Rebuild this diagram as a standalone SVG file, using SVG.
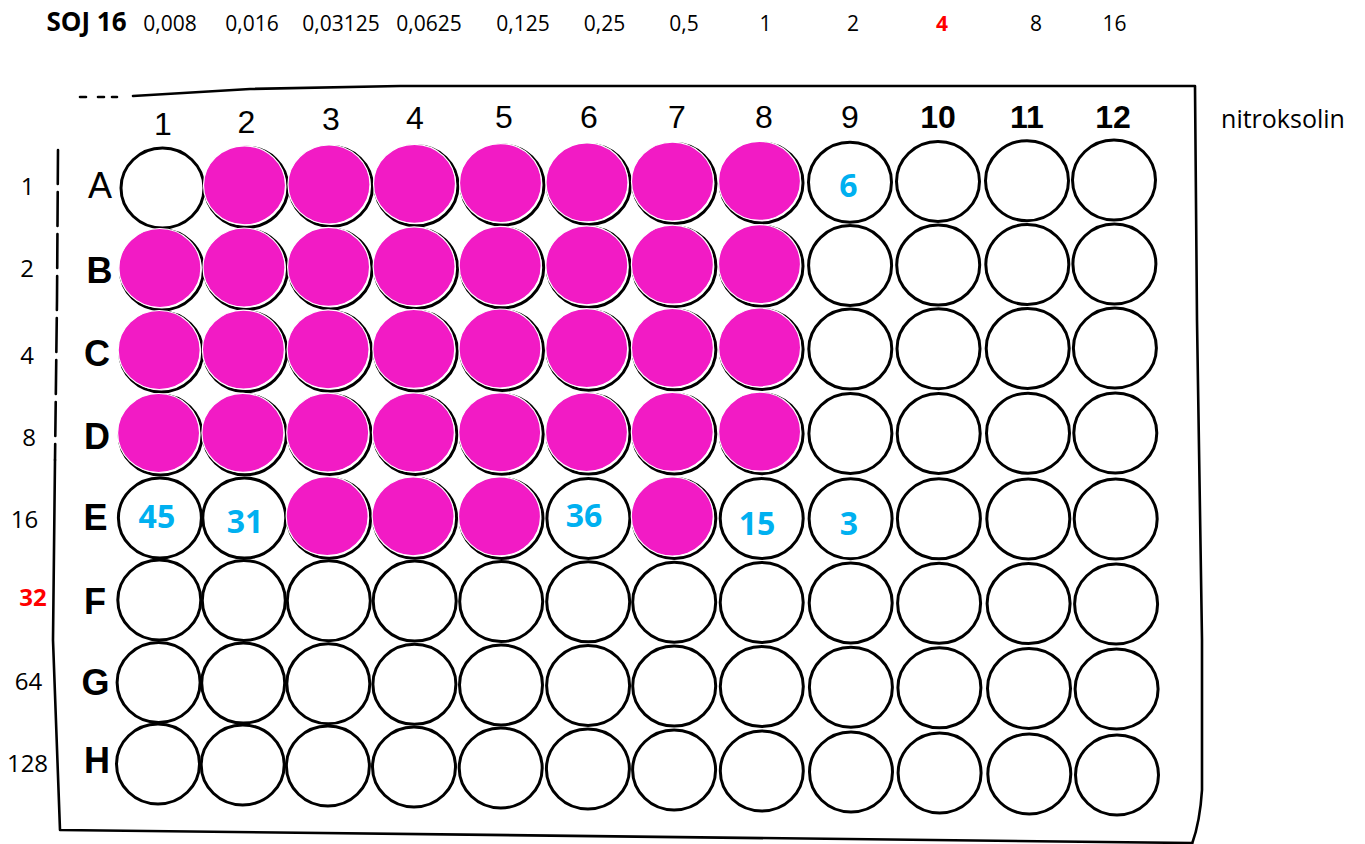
<svg xmlns="http://www.w3.org/2000/svg" xmlns:xlink="http://www.w3.org/1999/xlink" width="1365" height="844" viewBox="0 0 1365 844">
<style>
.ring{fill:#fff;stroke:#000;stroke-width:3}
.dot{fill:#F21BC5;stroke:#fff;stroke-width:1.2}
.cal{font-family:"Open Sans","Noto Sans",sans-serif;fill:#000;text-anchor:middle}
.top{font-size:21px}
.row{font-size:24px}
.red{fill:#FF0000;font-weight:bold}
.blue{font-family:"Open Sans","Noto Sans",sans-serif;font-size:32px;font-weight:bold;fill:#00B0F0;text-anchor:middle}
.hdr{font-family:"Liberation Sans",Arial,sans-serif;font-size:32px;fill:#000;text-anchor:middle}
.let{font-family:"Liberation Sans",Arial,sans-serif;font-size:36px;font-weight:bold;fill:#000;text-anchor:middle}
.border{fill:none;stroke:#000;stroke-width:2.6;stroke-linecap:round;stroke-linejoin:round}
</style>
<defs>
<ellipse id="ring" rx="41.5" ry="40"/>
<ellipse id="dot" cx="-2" cy="-2" rx="41" ry="39.5"/>
</defs>
<rect width="1365" height="844" fill="#fff"/>

<g id="plate-border">
<path class="border" d="M80,97 L86,97 M98,97 L104,97 M112,97 L117,97" stroke-width="2"/>
<path class="border" d="M133,96 L250,89 L400,86 L1195,86 L1197,320 L1202,640 L1202,790 Q1200,822 1192,844"/>
<path class="border" d="M58,150 L57,300 L55,460" stroke-dasharray="34 8"/>
<path class="border" d="M55,460 L53,640 L60,830 L1192,843"/>
</g>

<g id="concentration-labels" class="cal top">
<text x="86.5" y="31" font-size="26" font-weight="bold">SOJ 16</text>
<text x="170" y="31">0,008</text>
<text x="252" y="31">0,016</text>
<text x="341" y="31">0,03125</text>
<text x="429" y="31">0,0625</text>
<text x="523" y="31">0,125</text>
<text x="604.5" y="31">0,25</text>
<text x="684" y="31">0,5</text>
<text x="765.5" y="31">1</text>
<text x="853" y="31">2</text>
<text x="942" y="31" class="red">4</text>
<text x="1036" y="31">8</text>
<text x="1114.5" y="31">16</text>
</g>

<g id="nitroksolin-label">
<text class="cal" x="1283" y="128" font-size="25">nitroksolin</text>
</g>

<g id="row-concentrations" class="cal row">
<text x="27.5" y="195">1</text>
<text x="27" y="277">2</text>
<text x="27" y="364">4</text>
<text x="29" y="446">8</text>
<text x="24.5" y="528">16</text>
<text x="33" y="606" class="red">32</text>
<text x="28.5" y="690">64</text>
<text x="27.5" y="772">128</text>
</g>

<g id="column-headers" class="hdr">
<text x="163" y="135">1</text>
<text x="246.5" y="133">2</text>
<text x="331" y="130">3</text>
<text x="415" y="129">4</text>
<text x="504" y="128">5</text>
<text x="589" y="128">6</text>
<text x="677" y="128">7</text>
<text x="764" y="128">8</text>
<text x="850" y="128">9</text>
<text x="938" y="128" font-weight="bold">10</text>
<text x="1027" y="128" font-weight="bold">11</text>
<text x="1113" y="128" font-weight="bold">12</text>
</g>

<g id="row-letters" class="let">
<text x="100" y="198" font-weight="normal">A</text>
<text x="99.5" y="283">B</text>
<text x="97" y="366">C</text>
<text x="97" y="449">D</text>
<text x="95.5" y="530">E</text>
<text x="95" y="614">F</text>
<text x="95.5" y="695">G</text>
<text x="97" y="773">H</text>
</g>

<g id="wells">
<g id="A1" transform="translate(162.5 188)"><use xlink:href="#ring" class="ring"/></g>
<g id="A2" transform="translate(246.5 187.3)"><use xlink:href="#ring" class="ring"/><use xlink:href="#dot" class="dot"/></g>
<g id="A3" transform="translate(331 186.5)"><use xlink:href="#ring" class="ring"/><use xlink:href="#dot" class="dot"/></g>
<g id="A4" transform="translate(416.5 185.8)"><use xlink:href="#ring" class="ring"/><use xlink:href="#dot" class="dot"/></g>
<g id="A5" transform="translate(502.5 185.1)"><use xlink:href="#ring" class="ring"/><use xlink:href="#dot" class="dot"/></g>
<g id="A6" transform="translate(589 184.4)"><use xlink:href="#ring" class="ring"/><use xlink:href="#dot" class="dot"/></g>
<g id="A7" transform="translate(674.5 183.6)"><use xlink:href="#ring" class="ring"/><use xlink:href="#dot" class="dot"/></g>
<g id="A8" transform="translate(761.5 182.9)"><use xlink:href="#ring" class="ring"/><use xlink:href="#dot" class="dot"/></g>
<g id="A9" transform="translate(850 182.2)"><use xlink:href="#ring" class="ring"/><text class="blue" x="-1.5" y="15">6</text></g>
<g id="A10" transform="translate(938 181.5)"><use xlink:href="#ring" class="ring"/></g>
<g id="A11" transform="translate(1027 180.7)"><use xlink:href="#ring" class="ring"/></g>
<g id="A12" transform="translate(1114 180)"><use xlink:href="#ring" class="ring"/></g>

<g id="B1" transform="translate(161.9 270)"><use xlink:href="#ring" class="ring"/><use xlink:href="#dot" class="dot"/></g>
<g id="B2" transform="translate(246 269.5)"><use xlink:href="#ring" class="ring"/><use xlink:href="#dot" class="dot"/></g>
<g id="B3" transform="translate(330.6 268.9)"><use xlink:href="#ring" class="ring"/><use xlink:href="#dot" class="dot"/></g>
<g id="B4" transform="translate(416.1 268.4)"><use xlink:href="#ring" class="ring"/><use xlink:href="#dot" class="dot"/></g>
<g id="B5" transform="translate(502.2 267.8)"><use xlink:href="#ring" class="ring"/><use xlink:href="#dot" class="dot"/></g>
<g id="B6" transform="translate(588.8 267.3)"><use xlink:href="#ring" class="ring"/><use xlink:href="#dot" class="dot"/></g>
<g id="B7" transform="translate(674.4 266.7)"><use xlink:href="#ring" class="ring"/><use xlink:href="#dot" class="dot"/></g>
<g id="B8" transform="translate(761.5 266.2)"><use xlink:href="#ring" class="ring"/><use xlink:href="#dot" class="dot"/></g>
<g id="B9" transform="translate(850.1 265.6)"><use xlink:href="#ring" class="ring"/></g>
<g id="B10" transform="translate(938.2 265.1)"><use xlink:href="#ring" class="ring"/></g>
<g id="B11" transform="translate(1027.3 264.5)"><use xlink:href="#ring" class="ring"/></g>
<g id="B12" transform="translate(1114.4 264)"><use xlink:href="#ring" class="ring"/></g>

<g id="C1" transform="translate(161.2 352)"><use xlink:href="#ring" class="ring"/><use xlink:href="#dot" class="dot"/></g>
<g id="C2" transform="translate(245.4 351.6)"><use xlink:href="#ring" class="ring"/><use xlink:href="#dot" class="dot"/></g>
<g id="C3" transform="translate(330.1 351.3)"><use xlink:href="#ring" class="ring"/><use xlink:href="#dot" class="dot"/></g>
<g id="C4" transform="translate(415.8 350.9)"><use xlink:href="#ring" class="ring"/><use xlink:href="#dot" class="dot"/></g>
<g id="C5" transform="translate(502 350.5)"><use xlink:href="#ring" class="ring"/><use xlink:href="#dot" class="dot"/></g>
<g id="C6" transform="translate(588.7 350.2)"><use xlink:href="#ring" class="ring"/><use xlink:href="#dot" class="dot"/></g>
<g id="C7" transform="translate(674.4 349.8)"><use xlink:href="#ring" class="ring"/><use xlink:href="#dot" class="dot"/></g>
<g id="C8" transform="translate(761.6 349.5)"><use xlink:href="#ring" class="ring"/><use xlink:href="#dot" class="dot"/></g>
<g id="C9" transform="translate(850.3 349.1)"><use xlink:href="#ring" class="ring"/></g>
<g id="C10" transform="translate(938.5 348.7)"><use xlink:href="#ring" class="ring"/></g>
<g id="C11" transform="translate(1027.7 348.4)"><use xlink:href="#ring" class="ring"/></g>
<g id="C12" transform="translate(1114.9 348)"><use xlink:href="#ring" class="ring"/></g>

<g id="D1" transform="translate(160.6 435)"><use xlink:href="#ring" class="ring"/><use xlink:href="#dot" class="dot"/></g>
<g id="D2" transform="translate(244.9 434.8)"><use xlink:href="#ring" class="ring"/><use xlink:href="#dot" class="dot"/></g>
<g id="D3" transform="translate(329.7 434.6)"><use xlink:href="#ring" class="ring"/><use xlink:href="#dot" class="dot"/></g>
<g id="D4" transform="translate(415.4 434.5)"><use xlink:href="#ring" class="ring"/><use xlink:href="#dot" class="dot"/></g>
<g id="D5" transform="translate(501.7 434.3)"><use xlink:href="#ring" class="ring"/><use xlink:href="#dot" class="dot"/></g>
<g id="D6" transform="translate(588.5 434.1)"><use xlink:href="#ring" class="ring"/><use xlink:href="#dot" class="dot"/></g>
<g id="D7" transform="translate(674.3 433.9)"><use xlink:href="#ring" class="ring"/><use xlink:href="#dot" class="dot"/></g>
<g id="D8" transform="translate(761.6 433.7)"><use xlink:href="#ring" class="ring"/><use xlink:href="#dot" class="dot"/></g>
<g id="D9" transform="translate(850.4 433.5)"><use xlink:href="#ring" class="ring"/></g>
<g id="D10" transform="translate(938.7 433.4)"><use xlink:href="#ring" class="ring"/></g>
<g id="D11" transform="translate(1028 433.2)"><use xlink:href="#ring" class="ring"/></g>
<g id="D12" transform="translate(1115.3 433)"><use xlink:href="#ring" class="ring"/></g>

<g id="E1" transform="translate(159.9 518)"><use xlink:href="#ring" class="ring"/><text class="blue" x="-3" y="10">45</text></g>
<g id="E2" transform="translate(244.3 518.1)"><use xlink:href="#ring" class="ring"/><text class="blue" x="0.7" y="15">31</text></g>
<g id="E3" transform="translate(329.2 518.2)"><use xlink:href="#ring" class="ring"/><use xlink:href="#dot" class="dot"/></g>
<g id="E4" transform="translate(415.1 518.3)"><use xlink:href="#ring" class="ring"/><use xlink:href="#dot" class="dot"/></g>
<g id="E5" transform="translate(501.5 518.4)"><use xlink:href="#ring" class="ring"/><use xlink:href="#dot" class="dot"/></g>
<g id="E6" transform="translate(588.4 518.5)"><use xlink:href="#ring" class="ring"/><text class="blue" x="-4.4" y="8.5">36</text></g>
<g id="E7" transform="translate(674.3 518.5)"><use xlink:href="#ring" class="ring"/><use xlink:href="#dot" class="dot"/></g>
<g id="E8" transform="translate(761.7 518.6)"><use xlink:href="#ring" class="ring"/><text class="blue" x="-4.7" y="16.4">15</text></g>
<g id="E9" transform="translate(850.6 518.7)"><use xlink:href="#ring" class="ring"/><text class="blue" x="-1.6" y="16.3">3</text></g>
<g id="E10" transform="translate(938.9 518.8)"><use xlink:href="#ring" class="ring"/></g>
<g id="E11" transform="translate(1028.3 518.9)"><use xlink:href="#ring" class="ring"/></g>
<g id="E12" transform="translate(1115.7 519)"><use xlink:href="#ring" class="ring"/></g>

<g id="F1" transform="translate(159.3 600)"><use xlink:href="#ring" class="ring"/></g>
<g id="F2" transform="translate(243.8 600.4)"><use xlink:href="#ring" class="ring"/></g>
<g id="F3" transform="translate(328.8 600.7)"><use xlink:href="#ring" class="ring"/></g>
<g id="F4" transform="translate(414.7 601.1)"><use xlink:href="#ring" class="ring"/></g>
<g id="F5" transform="translate(501.2 601.5)"><use xlink:href="#ring" class="ring"/></g>
<g id="F6" transform="translate(588.2 601.8)"><use xlink:href="#ring" class="ring"/></g>
<g id="F7" transform="translate(674.2 602.2)"><use xlink:href="#ring" class="ring"/></g>
<g id="F8" transform="translate(761.7 602.5)"><use xlink:href="#ring" class="ring"/></g>
<g id="F9" transform="translate(850.7 602.9)"><use xlink:href="#ring" class="ring"/></g>
<g id="F10" transform="translate(939.1 603.3)"><use xlink:href="#ring" class="ring"/></g>
<g id="F11" transform="translate(1028.6 603.6)"><use xlink:href="#ring" class="ring"/></g>
<g id="F12" transform="translate(1116.1 604)"><use xlink:href="#ring" class="ring"/></g>

<g id="G1" transform="translate(158.6 682.5)"><use xlink:href="#ring" class="ring"/></g>
<g id="G2" transform="translate(243.2 683.1)"><use xlink:href="#ring" class="ring"/></g>
<g id="G3" transform="translate(328.3 683.7)"><use xlink:href="#ring" class="ring"/></g>
<g id="G4" transform="translate(414.4 684.3)"><use xlink:href="#ring" class="ring"/></g>
<g id="G5" transform="translate(501 684.9)"><use xlink:href="#ring" class="ring"/></g>
<g id="G6" transform="translate(588.1 685.5)"><use xlink:href="#ring" class="ring"/></g>
<g id="G7" transform="translate(674.2 686.1)"><use xlink:href="#ring" class="ring"/></g>
<g id="G8" transform="translate(761.8 686.6)"><use xlink:href="#ring" class="ring"/></g>
<g id="G9" transform="translate(850.9 687.2)"><use xlink:href="#ring" class="ring"/></g>
<g id="G10" transform="translate(939.4 687.8)"><use xlink:href="#ring" class="ring"/></g>
<g id="G11" transform="translate(1029 688.4)"><use xlink:href="#ring" class="ring"/></g>
<g id="G12" transform="translate(1116.6 689)"><use xlink:href="#ring" class="ring"/></g>

<g id="H1" transform="translate(158 764)"><use xlink:href="#ring" class="ring"/></g>
<g id="H2" transform="translate(242.7 765)"><use xlink:href="#ring" class="ring"/></g>
<g id="H3" transform="translate(327.9 766)"><use xlink:href="#ring" class="ring"/></g>
<g id="H4" transform="translate(414 767)"><use xlink:href="#ring" class="ring"/></g>
<g id="H5" transform="translate(500.7 768)"><use xlink:href="#ring" class="ring"/></g>
<g id="H6" transform="translate(587.9 769)"><use xlink:href="#ring" class="ring"/></g>
<g id="H7" transform="translate(674.1 770)"><use xlink:href="#ring" class="ring"/></g>
<g id="H8" transform="translate(761.8 771)"><use xlink:href="#ring" class="ring"/></g>
<g id="H9" transform="translate(851 772)"><use xlink:href="#ring" class="ring"/></g>
<g id="H10" transform="translate(939.6 773)"><use xlink:href="#ring" class="ring"/></g>
<g id="H11" transform="translate(1029.3 774)"><use xlink:href="#ring" class="ring"/></g>
<g id="H12" transform="translate(1117 775)"><use xlink:href="#ring" class="ring"/></g>
</g>
</svg>
